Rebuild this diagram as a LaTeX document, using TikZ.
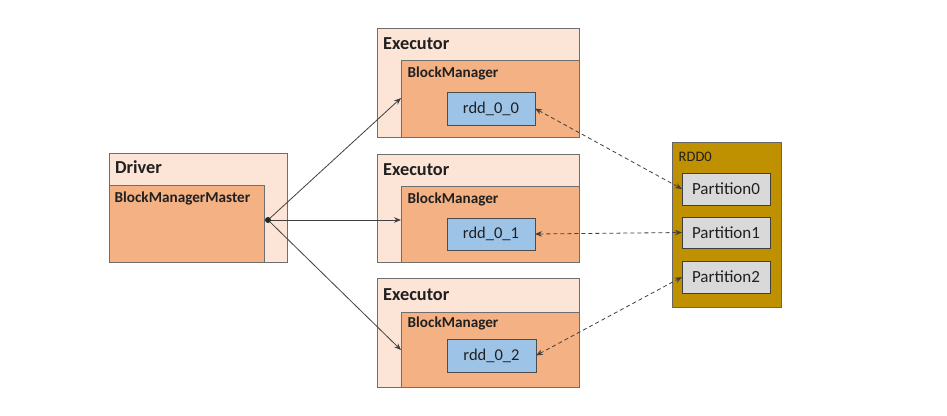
\documentclass[tikz,border=0pt]{standalone}
\usepackage{fontspec}
\setmainfont{Carlito}
\usetikzlibrary{arrows.meta}
\definecolor{peach}{HTML}{FCE4D6}
\definecolor{orangefill}{HTML}{F4B183}
\definecolor{bluefill}{HTML}{9DC3E6}
\definecolor{goldfill}{HTML}{BF9000}
\definecolor{grayfill}{HTML}{D9D9D9}
\definecolor{edge}{HTML}{6E6E6E}
\definecolor{txt}{HTML}{202020}
\tikzset{
  box/.style={draw=edge, line width=0.8pt, anchor=north west, inner sep=0pt, outer sep=0pt},
  outerbox/.style={box, fill=peach},
  innerbox/.style={box, fill=orangefill},
  rddbox/.style={box, fill=bluefill, draw=black!70},
  partbox/.style={box, fill=grayfill, draw=black!75},
  goldbox/.style={box, fill=goldfill, draw=black!60},
  boxtext/.style={text=txt, inner sep=0pt, font=\fontsize{16.5}{19}\selectfont},
  parttext/.style={text=txt, inner sep=0pt, font=\fontsize{17}{19}\selectfont},
  biglabel/.style={anchor=base west, inner sep=0pt, font=\bfseries\fontsize{18.3}{20}\selectfont, text=txt},
  smalllabel/.style={anchor=base west, inner sep=0pt, font=\bfseries\fontsize{15.2}{18}\selectfont, text=txt},
  plainlabel/.style={anchor=base west, inner sep=0pt, font=\fontsize{14.5}{17}\selectfont, text=txt},
  solidarrow/.style={draw=black!75, line width=0.8pt, -{Stealth[length=7pt,width=5.5pt]}},
  dasharrow/.style={draw=black!75, line width=0.8pt, dash pattern=on 4pt off 3pt, {Stealth[length=7pt,width=5.5pt]}-{Stealth[length=7pt,width=5.5pt]}}
}
\begin{document}
\begin{tikzpicture}[x=1pt,y=-1pt]
\useasboundingbox (0,0) rectangle (947,415);
\fill[white] (0,0) rectangle (947,415);
% Driver
\node[outerbox, minimum width=178pt, minimum height=109pt] (drv) at (109,153) {};
\node[innerbox, minimum width=155pt, minimum height=77pt] (bmm) at (109,185) {};
\node[biglabel] (drvl) at (115,173.5) {Driver};
\node[smalllabel] (bmml) at (114.5,202) {BlockManagerMaster};
% Executor 1
\node[outerbox, minimum width=202pt, minimum height=109pt] (exe1) at (377,28) {};
\node[innerbox, minimum width=178pt, minimum height=77pt] (bm1) at (401,60) {};
\node[biglabel] (exe1l) at (383,49) {Executor};
\node[smalllabel] (bm1l) at (407.5,77) {BlockManager};
\node[rddbox, minimum width=88pt, minimum height=33pt] (rdd1) at (447,92) {};
\node[boxtext] (rdd1t) at (rdd1.center) {rdd\_0\_0};
% Executor 2
\node[outerbox, minimum width=202pt, minimum height=108pt] (exe2) at (377,154) {};
\node[innerbox, minimum width=178pt, minimum height=76pt] (bm2) at (401,186) {};
\node[biglabel] (exe2l) at (383,175) {Executor};
\node[smalllabel] (bm2l) at (407.5,203) {BlockManager};
\node[rddbox, minimum width=88pt, minimum height=32pt] (rdd2) at (447,218) {};
\node[boxtext] (rdd2t) at (rdd2.center) {rdd\_0\_1};
% Executor 3
\node[outerbox, minimum width=202pt, minimum height=109pt] (exe3) at (377,278) {};
\node[innerbox, minimum width=178pt, minimum height=75pt] (bm3) at (401,312) {};
\node[biglabel] (exe3l) at (383,300) {Executor};
\node[smalllabel] (bm3l) at (407.5,327) {BlockManager};
\node[rddbox, minimum width=89pt, minimum height=33pt] (rdd3) at (447,339) {};
\node[boxtext] (rdd3t) at (rdd3.center) {rdd\_0\_2};
% RDD0
\node[goldbox, minimum width=109pt, minimum height=165pt] (rdd0) at (672,142) {};
\node[plainlabel] (rdd0l) at (678.5,161.5) {RDD0};
\node[partbox, minimum width=88pt, minimum height=32pt] (p0) at (682,173) {};
\node[parttext] (p0t) at (p0.center) {Partition0};
\node[partbox, minimum width=88pt, minimum height=31pt] (p1) at (682,217) {};
\node[parttext] (p1t) at (p1.center) {Partition1};
\node[partbox, minimum width=88pt, minimum height=32pt] (p2) at (682,261) {};
\node[parttext] (p2t) at (p2.center) {Partition2};
% connectors
\node[circle, fill=black!85, inner sep=0pt, minimum size=6pt] (hub) at (268,220) {};
\coordinate (t1) at (401,98);
\coordinate (t2) at (401,220);
\coordinate (t3) at (401,350);
\draw[solidarrow] (hub) -- (t1);
\draw[solidarrow] (hub) -- (t2);
\draw[solidarrow] (hub) -- (t3);
\draw[dasharrow] (rdd1.east) -- (p0.west);
\draw[dasharrow] (rdd2.east) -- (p1.west);
\draw[dasharrow] (rdd3.east) -- (p2.west);
\end{tikzpicture}
\end{document}
